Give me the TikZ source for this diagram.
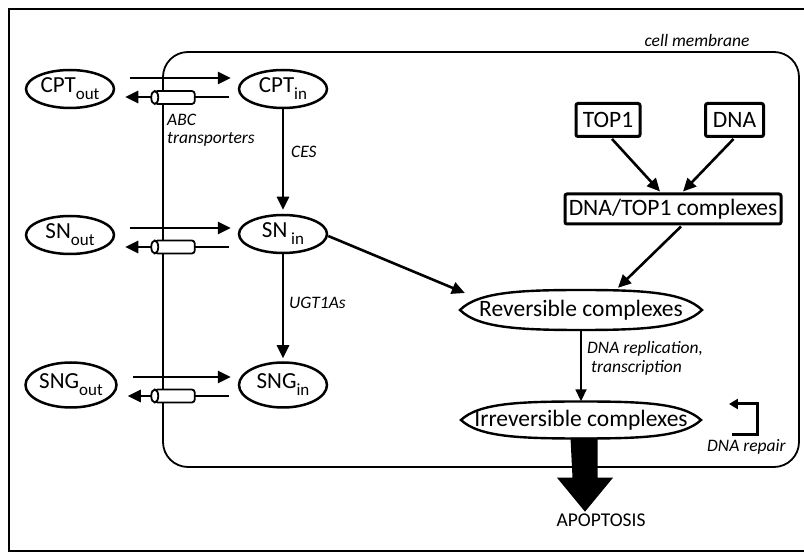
\documentclass[tikz,border=0pt]{standalone}
\usepackage{fontspec}
\setmainfont{Carlito}
\usetikzlibrary{arrows.meta,calc,shapes.geometric}
\newcommand{\sbx}[1]{\raisebox{-7pt}{\fontsize{17}{17}\selectfont #1}}
\begin{document}
\begin{tikzpicture}[x=1pt,y=-1pt,
  ell/.style={ellipse,draw,line width=2.5pt,inner sep=0pt,font=\fontsize{23}{24}\selectfont},
  box/.style={draw,line width=3pt,rounded corners=2pt,inner sep=0pt,font=\fontsize{23.5}{25}\selectfont},
  arr/.style={line width=2.6pt,-{Triangle[length=13pt,width=12pt]}},
  lbl/.style={font=\fontsize{17.5}{18}\selectfont\itshape,inner sep=0pt},
  cylpic/.pic={
    \draw[line width=1.8pt,fill=white,rounded corners=3pt] (-19,-6.5) rectangle (21,6.5);
    \draw[line width=1.8pt,fill=white] (-19,0) ellipse [x radius=3.5pt,y radius=6.5pt];
  }]
\useasboundingbox (0,0) rectangle (804,553);
\fill[white] (0,0) rectangle (804,553);
\draw[line width=1.3pt] (9,9) rectangle (812,551);
% cell membrane
\draw[line width=1.8pt,rounded corners=25pt] (163,52) rectangle (799,467);
\node[lbl] (cm) at (697,40) {cell membrane};

% species
\node[ell,minimum width=88pt,minimum height=38pt] (CPTo) at (70,89) {CPT\sbx{out}};
\node[ell,minimum width=88pt,minimum height=38pt] (CPTi) at (283,89) {CPT\sbx{in}};
\node[ell,minimum width=88pt,minimum height=38pt] (SNo) at (70,235) {SN\sbx{out}};
\node[ell,minimum width=88pt,minimum height=38pt] (SNi) at (283,234) {SN\,\sbx{in}};
\node[ell,minimum width=91pt,minimum height=45pt] (SNGo) at (71,385) {SNG\sbx{out}};
\node[ell,minimum width=88pt,minimum height=45pt] (SNGi) at (283,385) {SNG\sbx{in}};

% transport arrows
\draw[arr] ($(CPTo.east)+(15,-11)$) -- ($(CPTi.west)+(-7,-11)$);
\draw[arr] ($(CPTi.west)+(-9,8)$) -- ($(CPTo.east)+(10,8)$);
\pic at ($(CPTi.west)+(-64,8.5)$) {cylpic};
\draw[arr] ($(SNo.east)+(15,-7)$) -- ($(SNi.west)+(-7,-6)$);
\draw[arr] ($(SNi.west)+(-9,13)$) -- ($(SNo.east)+(10,12)$);
\pic at ($(SNi.west)+(-64,13)$) {cylpic};
\draw[arr] ($(SNGo.east)+(15,-8)$) -- ($(SNGi.west)+(-7,-8)$);
\draw[arr] ($(SNGi.west)+(-9,11)$) -- ($(SNGo.east)+(10,11)$);
\pic at ($(SNGi.west)+(-64,11)$) {cylpic};

\node[lbl,anchor=west,align=left] (abc) at (167,130) {ABC\\transporters};

% metabolism
\draw[arr] (CPTi.south) -- ($(SNi.north)+(0,-4)$);
\node[lbl,anchor=west] (ces) at (291,152) {CES};
\draw[arr] (SNi.south) -- ($(SNGi.north)+(0,-3)$);
\node[lbl,anchor=west] (ugt) at (289,303) {UGT1As};

% right part
\node[box,minimum width=64pt,minimum height=33pt] (TOP) at (608,120) {TOP1};
\node[box,minimum width=58pt,minimum height=33pt] (DNA) at (734.5,120) {DNA};
\node[box,minimum width=216pt,minimum height=30pt] (DT) at (673,209) {DNA/TOP1 complexes};

\node[ellipse,inner sep=0pt,minimum width=242pt,minimum height=40pt,font=\fontsize{23.5}{25}\selectfont] (Rev) at (581,310) {Reversible complexes};
\draw[line width=2.4pt] (460,310) .. controls (478,292) and (520,290) .. (581,290)
  .. controls (642,290) and (684,292) .. (702,310)
  .. controls (684,328) and (642,330) .. (581,330)
  .. controls (520,330) and (478,328) .. (460,310) -- cycle;
\node[ellipse,inner sep=0pt,minimum width=240pt,minimum height=37pt,font=\fontsize{23.5}{25}\selectfont] (Irr) at (581,420) {Irreversible complexes};
\draw[line width=2.4pt] (461,420) .. controls (479,403) and (520,401.5) .. (581,401.5)
  .. controls (642,401.5) and (683,403) .. (701,420)
  .. controls (683,437) and (642,438.5) .. (581,438.5)
  .. controls (520,438.5) and (479,437) .. (461,420) -- cycle;

\draw[arr] ($(TOP.south)+(4,1)$) -- ($(DT.north)+(-13,-1)$);
\draw[arr] ($(DNA.south)+(-1,1)$) -- ($(DT.north)+(10,-1)$);
\draw[arr] ($(DT.south)+(8,1)$) -- ($(Rev.north)+(37,-2)$);
\draw[arr] ($(SNi.east)+(0,2)$) -- ($(Rev.west)+(28,-17)$);
\draw[line width=1.8pt,-{Triangle[length=12pt,width=11pt]}] (Rev.south) -- (Irr.north);
\node[lbl,anchor=west,align=left,font=\fontsize{17.5}{19}\selectfont\itshape] (rep) at (587,358) {DNA replication,\\\hspace{4pt}transcription};

% DNA repair loop
\draw[line width=3pt,-{Triangle[length=9pt,width=10pt]}] ($(Irr.east)+(0,15)$) -| ($(Irr.east)+(26,-16)$) -- ($(Irr.east)+(-3,-16)$);
\node[lbl,anchor=west] (drl) at (707,447) {DNA repair};

% apoptosis
\node[font=\fontsize{19.5}{20}\selectfont,inner sep=0pt] (apo) at (601,520) {APOPTOSIS};
\coordinate (bt) at ($(Irr.south)+(3,0)$);
\fill (bt) ++(-13.5,-1) -- ++(27,0) -- ++(0,40) -- ++(15.5,0) -- ++(-28,34) -- ++(-28,-34) -- ++(15.5,0) -- cycle;
\end{tikzpicture}
\end{document}
